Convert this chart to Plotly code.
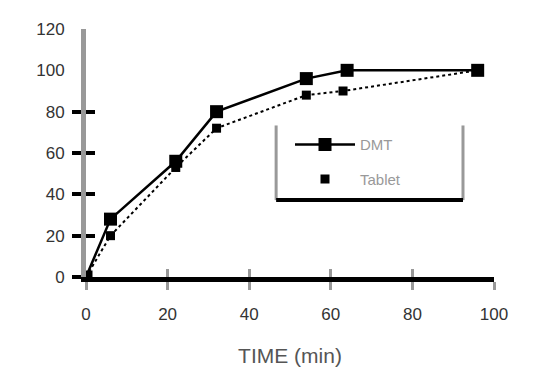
import plotly.graph_objects as go

# Data
time_a = [0, 6, 22, 32, 54, 64, 96]
pct_a = [0, 28, 56, 80, 96, 100, 100]
time_b = [0, 6, 22, 32, 54, 63, 96]
pct_b = [0, 20, 53, 72, 88, 90, 100]
name_a = "DMT"
name_b = "Tablet"
x_ticks = [0, 20, 40, 60, 80, 100]
y_ticks = [0, 20, 40, 60, 80, 100, 120]
y_marked = [0, 20, 40, 60, 80]

fig = go.Figure()
fig.add_trace(go.Scatter(x=time_b, y=pct_b, mode="lines", showlegend=False,
                         line=dict(color="black", width=2, dash="dot")))
fig.add_trace(go.Scatter(x=time_a, y=pct_a, mode="lines+markers", name=name_a,
                         legendgroup="a",
                         line=dict(color="black", width=2.5),
                         marker=dict(symbol="square", size=13, color="black")))
fig.add_trace(go.Scatter(x=time_b, y=pct_b, mode="markers", name=name_b,
                         legendgroup="b",
                         marker=dict(symbol="square", size=9, color="black")))

W, H = 551, 370
# page body adds an 8px offset; margins compensate so the plot lands where the reference has it
L, R, T, B = 78, 65, 17, 101

fig.update_layout(
    width=W, height=H,
    margin=dict(l=L, r=R, t=T, b=B),
    plot_bgcolor="white", paper_bgcolor="white",
    font=dict(family="Liberation Sans, Arial", size=13, color="black"),
    xaxis=dict(range=[0, 100], tickvals=x_ticks, showgrid=False, zeroline=False,
               showline=True, linecolor="black", linewidth=5,
               ticks="outside", ticklen=8, tickwidth=3, tickcolor="#999999",
               ticklabelstandoff=10,
               tickfont=dict(size=17, color="#333333"),
               title=dict(text="TIME (min)", font=dict(size=21, color="#555555"), standoff=26)),
    yaxis=dict(range=[0, 120], tickvals=y_ticks, showgrid=False, zeroline=False,
               showline=True, linecolor="#999999", linewidth=5,
               ticks="", ticklabelstandoff=13,
               tickfont=dict(size=17, color="#333333"),
               minor=dict(tickvals=y_marked, ticks="outside", ticklen=9,
                          tickwidth=4, tickcolor="black")),
    xaxis2=dict(range=[0, 100], overlaying="x", tickvals=x_ticks, showgrid=False,
                zeroline=False, showline=False, showticklabels=False,
                ticks="inside", ticklen=8, tickwidth=3, tickcolor="#999999"),
    yaxis2=dict(range=[0, 120], overlaying="y", tickvals=y_marked, showgrid=False,
                zeroline=False, showline=False, showticklabels=False,
                ticks="inside", ticklen=9, tickwidth=4, tickcolor="black"),
    legend=dict(x=0.50, y=0.60, xanchor="left", yanchor="top",
                bgcolor="rgba(0,0,0,0)", borderwidth=0,
                tracegroupgap=12, itemwidth=60,
                font=dict(size=15, color="#999999")),
    showlegend=True,
)

# legend frame (decoration)
fig.add_shape(type="line", xref="paper", yref="paper", x0=0.466, x1=0.466, y0=0.31, y1=0.611,
              line=dict(color="#999999", width=3))
fig.add_shape(type="line", xref="paper", yref="paper", x0=0.924, x1=0.924, y0=0.31, y1=0.611,
              line=dict(color="#999999", width=3))
fig.add_shape(type="line", xref="paper", yref="paper", x0=0.466, x1=0.924, y0=0.31, y1=0.31,
              line=dict(color="black", width=4))

# invisible trace to attach the overlay axes
fig.add_trace(go.Scatter(x=[0], y=[0], xaxis="x2", yaxis="y2", mode="markers",
                         marker=dict(opacity=0), showlegend=False, hoverinfo="skip"))

fig.write_html("out.html")
